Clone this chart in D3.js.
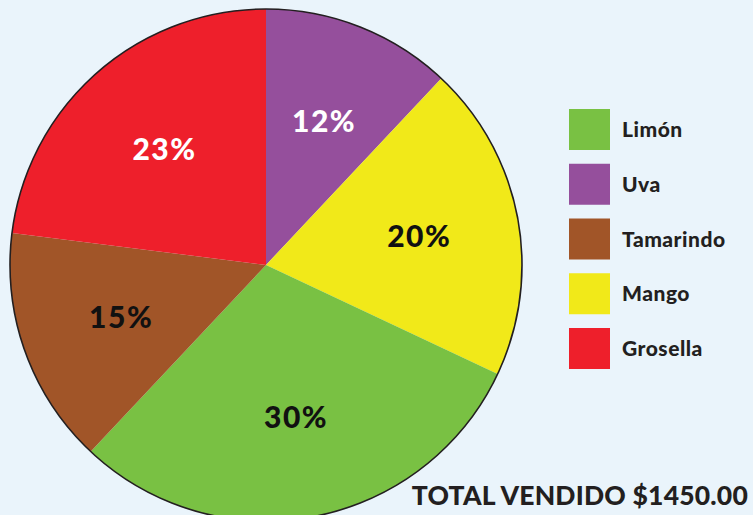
<!DOCTYPE html>
<html>
<head>
<meta charset="utf-8">
<script src="https://cdn.jsdelivr.net/npm/d3@7/dist/d3.min.js"></script>
<style>
  html, body { margin: 0; padding: 0; background: #EAF4FB; }
  svg { display: block; }
  text { font-family: "Lato", "DejaVu Sans", sans-serif; font-weight: 900; }
</style>
</head>
<body>
<svg id="chart" width="753" height="515"></svg>
<script>
// Sales share by flavour
const sliceOrder = ["Uva", "Mango", "Limón", "Tamarindo", "Grosella"];
const sliceValues = [12, 20, 30, 15, 23];
const legendOrder = ["Limón", "Uva", "Tamarindo", "Mango", "Grosella"];
const flavourColors = {
  "Limón": "#79C143",
  "Uva": "#954F9C",
  "Tamarindo": "#A15528",
  "Mango": "#F1E919",
  "Grosella": "#EE1F2B"
};
const labelColors = {
  "Limón": "#111", "Uva": "#fff", "Tamarindo": "#111", "Mango": "#111", "Grosella": "#fff"
};
const totalLabel = "TOTAL VENDIDO $1450.00";

const svg = d3.select("#chart");
const W = 753, H = 515;
svg.append("rect").attr("width", W).attr("height", H).attr("fill", "#EAF4FB");

const cx = 266, cy = 265, R = 256;
const data = sliceOrder.map((k, i) => ({ key: k, value: sliceValues[i] }));

const pie = d3.pie().sort(null).value(d => d.value);
const arc = d3.arc().innerRadius(0).outerRadius(R);
const labelArc = d3.arc().innerRadius(155).outerRadius(155);

const g = svg.append("g").attr("transform", `translate(${cx},${cy})`);
const arcs = pie(data);

g.selectAll("path.slice")
  .data(arcs)
  .join("path")
  .attr("class", "slice")
  .attr("d", arc)
  .attr("fill", d => flavourColors[d.data.key]);

// outer rim
g.append("circle")
  .attr("r", R)
  .attr("fill", "none")
  .attr("stroke", "#231F20")
  .attr("stroke-width", 1.6);

g.selectAll("text.pct")
  .data(arcs)
  .join("text")
  .attr("class", "pct")
  .attr("transform", d => `translate(${labelArc.centroid(d)})`)
  .attr("x", 1)
  .attr("text-anchor", "middle")
  .attr("dy", "0.36em")
  .attr("font-size", 30)
  .attr("letter-spacing", 1.5)
  .attr("fill", d => labelColors[d.data.key])
  .text(d => d.data.value + "%");

// legend
const legendY = d3.scalePoint().domain(legendOrder).range([129.5, 348.5]);
const lg = svg.append("g");
const items = lg.selectAll("g.item").data(legendOrder).join("g")
  .attr("class", "item")
  .attr("transform", d => `translate(569,${legendY(d)})`);
items.append("rect")
  .attr("x", 0).attr("y", -20.5)
  .attr("width", 41).attr("height", 41)
  .attr("fill", d => flavourColors[d]);
items.append("text")
  .attr("x", 53).attr("y", 0)
  .attr("dy", "0.36em")
  .attr("font-size", 21)
  .attr("letter-spacing", 0.5)
  .attr("fill", "#231F20")
  .text(d => d);

svg.append("text")
  .attr("x", 748).attr("y", 505)
  .attr("text-anchor", "end")
  .attr("font-size", 26.5)
  .attr("letter-spacing", 0.2)
  .attr("fill", "#231F20")
  .text(totalLabel);
</script>
</body>
</html>
